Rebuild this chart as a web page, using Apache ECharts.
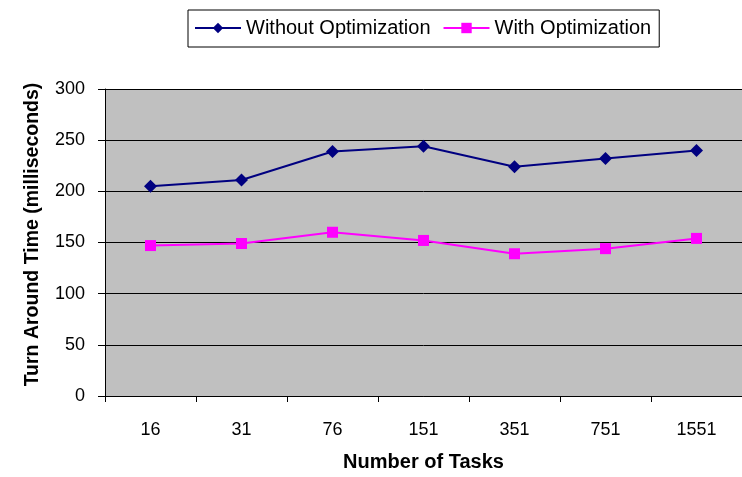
<!DOCTYPE html>
<html>
<head>
<meta charset="utf-8">
<script src="https://cdn.jsdelivr.net/npm/echarts@6/dist/echarts.min.js"></script>
<style>html,body{margin:0;padding:0;background:#fff}#c{width:742px;height:477px}</style>
</head>
<body>
<div id="c"></div>
<script>
var categories = ['16', '31', '76', '151', '351', '751', '1551'];
var withoutOpt = [205, 211, 239, 244, 224, 232, 240];
var withOpt = [147, 149, 160, 152, 139, 144, 154];
var yTicks = [0, 50, 100, 150, 200, 250, 300];

var chart = echarts.init(document.getElementById('c'), null, {renderer: 'canvas'});
var font = 'Liberation Sans, Arial, sans-serif';
chart.setOption({
  animation: false,
  backgroundColor: '#fff',
  textStyle: {fontFamily: font},
  legend: {
    left: 188, top: 10,
    padding: [8, 8, 9, 6],
    borderColor: '#000', borderWidth: 1,
    itemWidth: 46, itemHeight: 13, itemGap: 12,
    textStyle: {fontSize: 20, color: '#000', fontFamily: font},
    data: ['Without Optimization', 'With Optimization']
  },
  grid: {left: 105, top: 89, right: 0, bottom: 78, show: true, backgroundColor: '#C0C0C0', borderWidth: 0},
  xAxis: {
    type: 'category', data: categories,
    name: 'Number of Tasks', nameLocation: 'middle', nameGap: 56,
    nameTextStyle: {fontSize: 20, fontWeight: 'bold', color: '#000', fontFamily: font},
    axisLine: {lineStyle: {color: '#000', width: 1}},
    axisTick: {show: true, length: 6, lineStyle: {color: '#000'}},
    axisLabel: {fontSize: 18, color: '#000', margin: 25, fontFamily: font}
  },
  yAxis: {
    type: 'value', min: yTicks[0], max: yTicks[yTicks.length - 1], interval: 50,
    name: 'Turn Around Time (milliseconds)', nameLocation: 'middle', nameGap: 62,
    nameTextStyle: {fontSize: 19.5, fontWeight: 'bold', color: '#000', fontFamily: font, padding: [0, 0, 0, 16]},
    axisLine: {show: true, lineStyle: {color: '#000', width: 1}},
    axisTick: {show: true, length: 7, lineStyle: {color: '#000'}},
    axisLabel: {fontSize: 18, color: '#000', margin: 20, fontFamily: font},
    splitLine: {show: true, lineStyle: {color: '#000', width: 1}}
  },
  series: [
    {
      name: 'Without Optimization', type: 'line', data: withoutOpt,
      symbol: 'diamond', symbolSize: 13,
      lineStyle: {color: '#000080', width: 2},
      itemStyle: {color: '#000080'}
    },
    {
      name: 'With Optimization', type: 'line', data: withOpt,
      symbol: 'rect', symbolSize: 11,
      lineStyle: {color: '#FF00FF', width: 2},
      itemStyle: {color: '#FF00FF'}
    }
  ]
});
</script>
</body>
</html>
